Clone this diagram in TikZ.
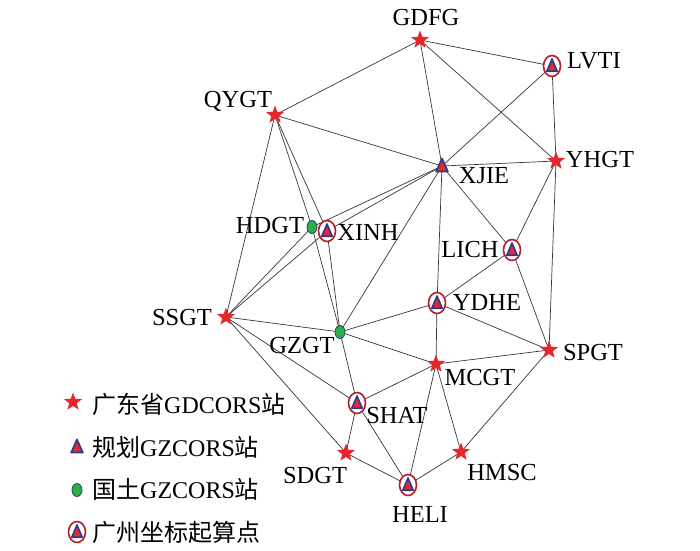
\documentclass[tikz,border=0pt]{standalone}
\usepackage{fontspec}
\setmainfont{Liberation Serif}
\newfontfamily\cjk{Noto Sans CJK SC}
\usetikzlibrary{shapes.geometric}
\definecolor{starred}{HTML}{E5262B}
\definecolor{triblue}{HTML}{2B3A8F}
\definecolor{trired}{HTML}{E02A2E}
\definecolor{ringred}{HTML}{B01E28}
\definecolor{dotgreen}{HTML}{2DAE4A}
\definecolor{dotedge}{HTML}{1E4A5A}
\tikzset{
  link/.style={draw=black!78,line width=0.7pt},
  lbl/.style={anchor=base,inner sep=0pt,font=\fontsize{24.5}{26}\selectfont},
  leg/.style={anchor=base west,inner sep=0pt,font=\fontsize{24}{26}\selectfont},
  pics/stmark/.style={code={\node[star,star points=5,star point ratio=2.4,minimum size=19pt,inner sep=0pt,fill=starred]{};}},
  pics/trimark/.style={code={\filldraw[draw=triblue,fill=trired,line width=1.7pt,line join=round] (0,-7.5)--(5.8,5.5)--(-5.8,5.5)--cycle;}},
  pics/ringmark/.style={code={
    \filldraw[draw=ringred,fill=white,line width=1.6pt] (0,0) ellipse [x radius=8.5,y radius=10.5];
    \filldraw[draw=triblue,fill=trired,line width=1.6pt,line join=round] (0,-7)--(5.2,5.2)--(-5.2,5.2)--cycle;}},
  pics/dotmark/.style={code={\filldraw[draw=dotedge,fill=dotgreen,line width=0.8pt] (0,0) ellipse [x radius=5,y radius=6.5];}}
}
\begin{document}
\begin{tikzpicture}[x=1pt,y=-1pt]
\useasboundingbox (0,0) rectangle (700,550);
\fill[white] (0,0) rectangle (700,550);
% stations
\coordinate (GDFG) at (420,40);
\coordinate (LVTI) at (552,66);
\coordinate (QYGT) at (275,115);
\coordinate (XJIE) at (442,166);
\coordinate (YHGT) at (556,161);
\coordinate (HDGT) at (312,227);
\coordinate (XINH) at (327,231);
\coordinate (LICH) at (512,250);
\coordinate (YDHE) at (437,303);
\coordinate (SSGT) at (226,317);
\coordinate (GZGT) at (340,332);
\coordinate (SPGT) at (549,350);
\coordinate (MCGT) at (436,364);
\coordinate (SHAT) at (357,403);
\coordinate (SDGT) at (346,453);
\coordinate (HMSC) at (461,452);
\coordinate (HELI) at (408,485);
% connectors
\foreach \a/\b in {GDFG/QYGT,GDFG/LVTI,GDFG/XJIE,GDFG/YHGT,LVTI/XJIE,LVTI/YHGT,QYGT/XJIE,XJIE/YHGT,
  QYGT/SSGT,QYGT/HDGT,QYGT/XINH,HDGT/GZGT,XINH/GZGT,HDGT/XJIE,XINH/XJIE,SSGT/HDGT,SSGT/XINH,
  XJIE/GZGT,XJIE/YDHE,XJIE/LICH,YHGT/LICH,YHGT/SPGT,LICH/YDHE,LICH/SPGT,YDHE/GZGT,YDHE/SPGT,
  YDHE/MCGT,SSGT/GZGT,SSGT/SHAT,SSGT/SDGT,GZGT/MCGT,GZGT/SHAT,MCGT/SPGT,MCGT/SHAT,MCGT/HELI,
  MCGT/HMSC,SPGT/HMSC,SHAT/SDGT,SHAT/HELI,SDGT/HELI,HELI/HMSC}
  {\draw[link] (\a) -- (\b);}
% markers
\foreach \s in {GDFG,QYGT,YHGT,SSGT,SPGT,MCGT,SDGT,HMSC} {\pic at (\s) {stmark};}
\pic at (XJIE) {trimark};
\foreach \s in {LVTI,XINH,LICH,YDHE,SHAT,HELI} {\pic at (\s) {ringmark};}
\foreach \s in {HDGT,GZGT} {\pic at (\s) {dotmark};}
% labels
\node[lbl] (tGDFG) at (426,25) {GDFG};
\node[lbl] (tLVTI) at (594,68) {LVTI};
\node[lbl] (tQYGT) at (238,107) {QYGT};
\node[lbl] (tXJIE) at (484,183) {XJIE};
\node[lbl] (tYHGT) at (600,167) {YHGT};
\node[lbl] (tHDGT) at (270,233) {HDGT};
\node[lbl] (tXINH) at (368,240) {XINH};
\node[lbl] (tLICH) at (470,257) {LICH};
\node[lbl] (tYDHE) at (487,310) {YDHE};
\node[lbl] (tSSGT) at (182,325) {SSGT};
\node[lbl] (tGZGT) at (302,353) {GZGT};
\node[lbl] (tSPGT) at (593,360) {SPGT};
\node[lbl] (tMCGT) at (480,385) {MCGT};
\node[lbl] (tSHAT) at (397,423) {SHAT};
\node[lbl] (tSDGT) at (315,483) {SDGT};
\node[lbl] (tHMSC) at (502,480) {HMSC};
\node[lbl] (tHELI) at (420,522) {HELI};
% legend
\pic at (73,402) {stmark};
\pic at (77,447) {trimark};
\pic at (77,490) {dotmark};
\pic at (77,532) {ringmark};
\node[leg] (l1) at (92,413) {{\cjk 广东省}GDCORS{\cjk 站}};
\node[leg] (l2) at (92,456) {{\cjk 规划}GZCORS{\cjk 站}};
\node[leg] (l3) at (92,498) {{\cjk 国土}GZCORS{\cjk 站}};
\node[leg] (l4) at (92,541) {{\cjk 广州坐标起算点}};
\end{tikzpicture}
\end{document}
